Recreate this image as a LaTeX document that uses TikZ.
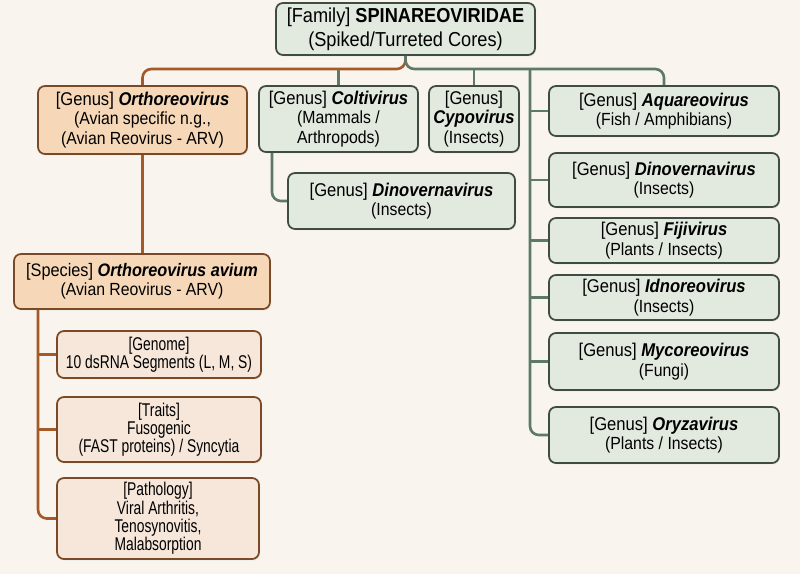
\documentclass[tikz,border=0pt]{standalone}
\usepackage{fontspec}
\setmainfont[FakeStretch=0.9]{Liberation Sans}
\newfontfamily\detailfont[FakeStretch=0.75]{Liberation Sans}
\usetikzlibrary{positioning,shadows}

\definecolor{bgcream}{HTML}{F9F5EE}
\definecolor{gfill}{HTML}{E2E9DF}
\definecolor{gdraw}{HTML}{3E4C42}
\definecolor{gline}{HTML}{5C7A66}
\definecolor{ofill}{HTML}{F6D8B8}
\definecolor{odraw}{HTML}{7A4A26}
\definecolor{oline}{HTML}{A45A28}
\definecolor{lfill}{HTML}{F6E7DA}

\newcommand{\gen}[1]{[Genus] \textbf{\textit{#1}}}
\newcommand{\subl}[1]{{\fontsize{10}{11}\selectfont #1}}

\begin{document}
\begin{tikzpicture}[font=\fontsize{10.5}{11}\selectfont,
    gbox/.style ={draw=gdraw, fill=gfill, line width=1pt, rounded corners=4pt, align=center, inner sep=2pt,
                  drop shadow={opacity=0.15, shadow xshift=0.6pt, shadow yshift=-0.8pt}},
    obox/.style ={gbox, draw=odraw, fill=ofill},
    dbox/.style ={obox, fill=lfill, font=\detailfont\fontsize{10.5}{10.4}\selectfont},
    gwire/.style={draw=gline, line width=1.5pt, rounded corners=5pt},
    owire/.style={gwire, draw=oline},
  ]
  \fill[bgcream] (0,0) rectangle (16,-11.48);
  % Family
  \node[gbox, minimum width=5.18cm, minimum height=1.04cm, font=\fontsize{11.5}{13.5}\selectfont] (fam) at (8.11,-0.58)
    {[Family] \textbf{SPINAREOVIRIDAE}\\(Spiked/Turreted Cores)};
  \coordinate (bus) at (8.11,-1.38);
  \coordinate (trunk) at (10.6,-1.38);
  % Orthoreovirus branch
  \node[obox, minimum width=4.18cm, minimum height=1.36cm] (orth) at (2.85,-2.40)
    {\gen{Orthoreovirus}\\\subl{(Avian specific n.g.,}\\\subl{(Avian Reovirus - ARV)}};
  \node[obox, minimum width=5.12cm, minimum height=1.10cm, font=\fontsize{10.3}{11}\selectfont] (spec) at (2.84,-5.63)
    {[Species] \textbf{\textit{Orthoreovirus avium}}\\\subl{(Avian Reovirus - ARV)}};
  \node[dbox, minimum width=4.08cm, minimum height=0.94cm] (geno) at (3.18,-7.09)
    {[Genome]\\10 dsRNA Segments (L, M, S)};
  \node[dbox, minimum width=4.08cm, minimum height=1.30cm] (trai) at (3.18,-8.59)
    {[Traits]\\Fusogenic\\(FAST proteins) / Syncytia};
  \node[dbox, minimum width=4.04cm, minimum height=1.62cm] (path) at (3.16,-10.37)
    {[Pathology]\\Viral Arthritis,\\Tenosynovitis,\\Malabsorption};
  % middle genera
  \node[gbox, minimum width=3.18cm, minimum height=1.32cm] (colt) at (6.77,-2.38)
    {\gen{Coltivirus}\\\subl{(Mammals /}\\\subl{Arthropods)}};
  \node[gbox, minimum width=1.80cm, minimum height=1.32cm] (cypo) at (9.48,-2.38)
    {[Genus]\\\textbf{\textit{Cypovirus}}\\\subl{(Insects)}};
  \node[gbox, minimum width=4.54cm, minimum height=1.12cm] (dm) at (8.03,-4.02)
    {\gen{Dinovernavirus}\\\subl{(Insects)}};
  % right column
  \node[gbox, minimum width=4.6cm, minimum height=1.00cm] (aq) at (13.28,-2.22)
    {\gen{Aquareovirus}\\\subl{(Fish / Amphibians)}};
  \node[gbox, minimum width=4.6cm, minimum height=1.08cm] (dn) at (13.28,-3.60)
    {\gen{Dinovernavirus}\\\subl{(Insects)}};
  \node[gbox, minimum width=4.6cm, minimum height=0.90cm] (fj) at (13.28,-4.81)
    {\gen{Fijivirus}\\\subl{(Plants / Insects)}};
  \node[gbox, minimum width=4.6cm, minimum height=0.90cm] (id) at (13.28,-5.95)
    {\gen{Idnoreovirus}\\\subl{(Insects)}};
  \node[gbox, minimum width=4.6cm, minimum height=1.14cm] (my) at (13.28,-7.23)
    {\gen{Mycoreovirus}\\\subl{(Fungi)}};
  \node[gbox, minimum width=4.6cm, minimum height=1.12cm] (oz) at (13.28,-8.70)
    {\gen{Oryzavirus}\\\subl{(Plants / Insects)}};

  % connectors
  \draw[owire] (fam.south) -- (bus) -| (orth.north);
  \draw[gwire] (fam.south) -- (bus) -| (aq.north);
  \draw[gwire] (colt.north) -- (colt.north |- bus);
  \draw[gwire] (cypo.north) -- (cypo.north |- bus);
  \draw[gwire] (trunk) |- (oz.west);
  \foreach \n in {aq,dn,fj,id,my}
    \draw[gwire] (trunk |- \n.west) -- (\n.west);
  \coordinate (ct) at ([xshift=-1.33cm]colt.south);
  \draw[gwire] (ct) |- (dm.west);
  \draw[owire] (orth.south) -- (orth.south |- spec.north);
  \coordinate (st) at ([xshift=-2.08cm]spec.south);
  \draw[owire] (st) |- (path.west);
  \foreach \n in {geno,trai}
    \draw[owire] (st |- \n.west) -- (\n.west);
\end{tikzpicture}
\end{document}
